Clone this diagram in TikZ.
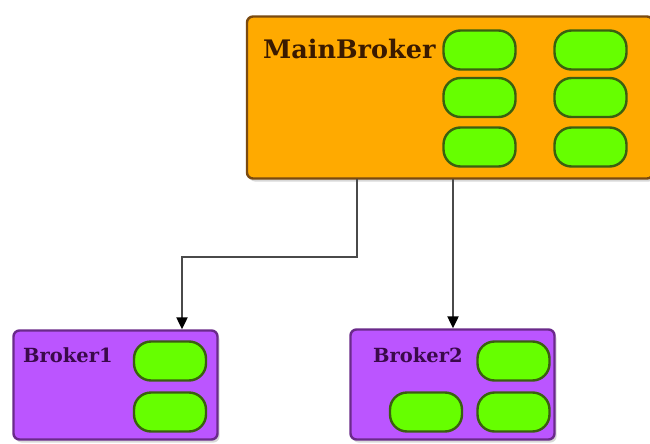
\documentclass[tikz,border=0pt]{standalone}
\usepackage{fontspec}
\setmainfont{DejaVu Serif}
\usetikzlibrary{arrows.meta,shadows}
\definecolor{orangefill}{HTML}{FFAA00}
\definecolor{orangeline}{HTML}{7A4A10}
\definecolor{purplefill}{HTML}{BB55FF}
\definecolor{purpleline}{HTML}{6A2A8A}
\definecolor{greenfill}{HTML}{66FF00}
\definecolor{greenline}{HTML}{3A6010}
\definecolor{maintext}{HTML}{3A1A00}
\definecolor{brokertext}{HTML}{3A0A4A}
\definecolor{wire}{HTML}{4A4A4A}
\begin{document}
\begin{tikzpicture}[x=1pt,y=-1pt,
  box/.style={draw, line width=2.4pt, rounded corners=6pt, inner sep=0pt,
    drop shadow={opacity=0.3, shadow xshift=2pt, shadow yshift=-3pt}},
  mainbox/.style={box, fill=orangefill, draw=orangeline},
  brokerbox/.style={box, fill=purplefill, draw=purpleline},
  pill/.style={draw=greenline, fill=greenfill, line width=2.4pt, rounded corners=17pt,
    inner sep=0pt, minimum width=72pt, minimum height=39pt},
  lbl/.style={inner sep=0pt, anchor=base west},
  arr/.style={draw=wire, line width=2.2pt, -{Triangle[width=11pt,length=12pt,fill=black,color=black]}}
]
\clip (0,0) rectangle (650,444);
\fill[white] (0,0) rectangle (650,444);
% main broker
\node[mainbox, minimum width=406pt, minimum height=162pt] (main) at (450,97.5) {};
\node[lbl, text=maintext, font=\fontsize{25.5}{25.5}\bfseries] (mtxt) at (263,59) {MainBroker};
\node[pill] (m11) at (479.5,50) {};
\node[pill] (m21) at (479.5,97.5) {};
\node[pill] (m31) at (479.5,147) {};
\node[pill] (m12) at (590.5,50) {};
\node[pill] (m22) at (590.5,97.5) {};
\node[pill] (m32) at (590.5,147) {};
% broker 1
\node[brokerbox, minimum width=204pt, minimum height=109pt] (b1) at (115.5,385) {};
\node[lbl, text=brokertext, font=\fontsize{19.5}{19.5}\bfseries] (b1txt) at (23,362) {Broker1};
\node[pill] (b1p1) at (170,361) {};
\node[pill] (b1p2) at (170,412) {};
% broker 2
\node[brokerbox, minimum width=204pt, minimum height=110pt] (b2) at (452.5,384.5) {};
\node[lbl, text=brokertext, font=\fontsize{19.5}{19.5}\bfseries] (b2txt) at (373,362) {Broker2};
\node[pill] (b2p1) at (513.5,361) {};
\node[pill] (b2p2) at (426,412) {};
\node[pill] (b2p3) at (513.5,412) {};
% connectors
\coordinate (s1) at (357,179);
\coordinate (k1) at (182,257);
\coordinate (s2) at (453,179);
\draw[arr] (s1) |- (k1) -- (k1 |- b1.north);
\draw[arr] (s2) -- (s2 |- b2.north);
\end{tikzpicture}
\end{document}
